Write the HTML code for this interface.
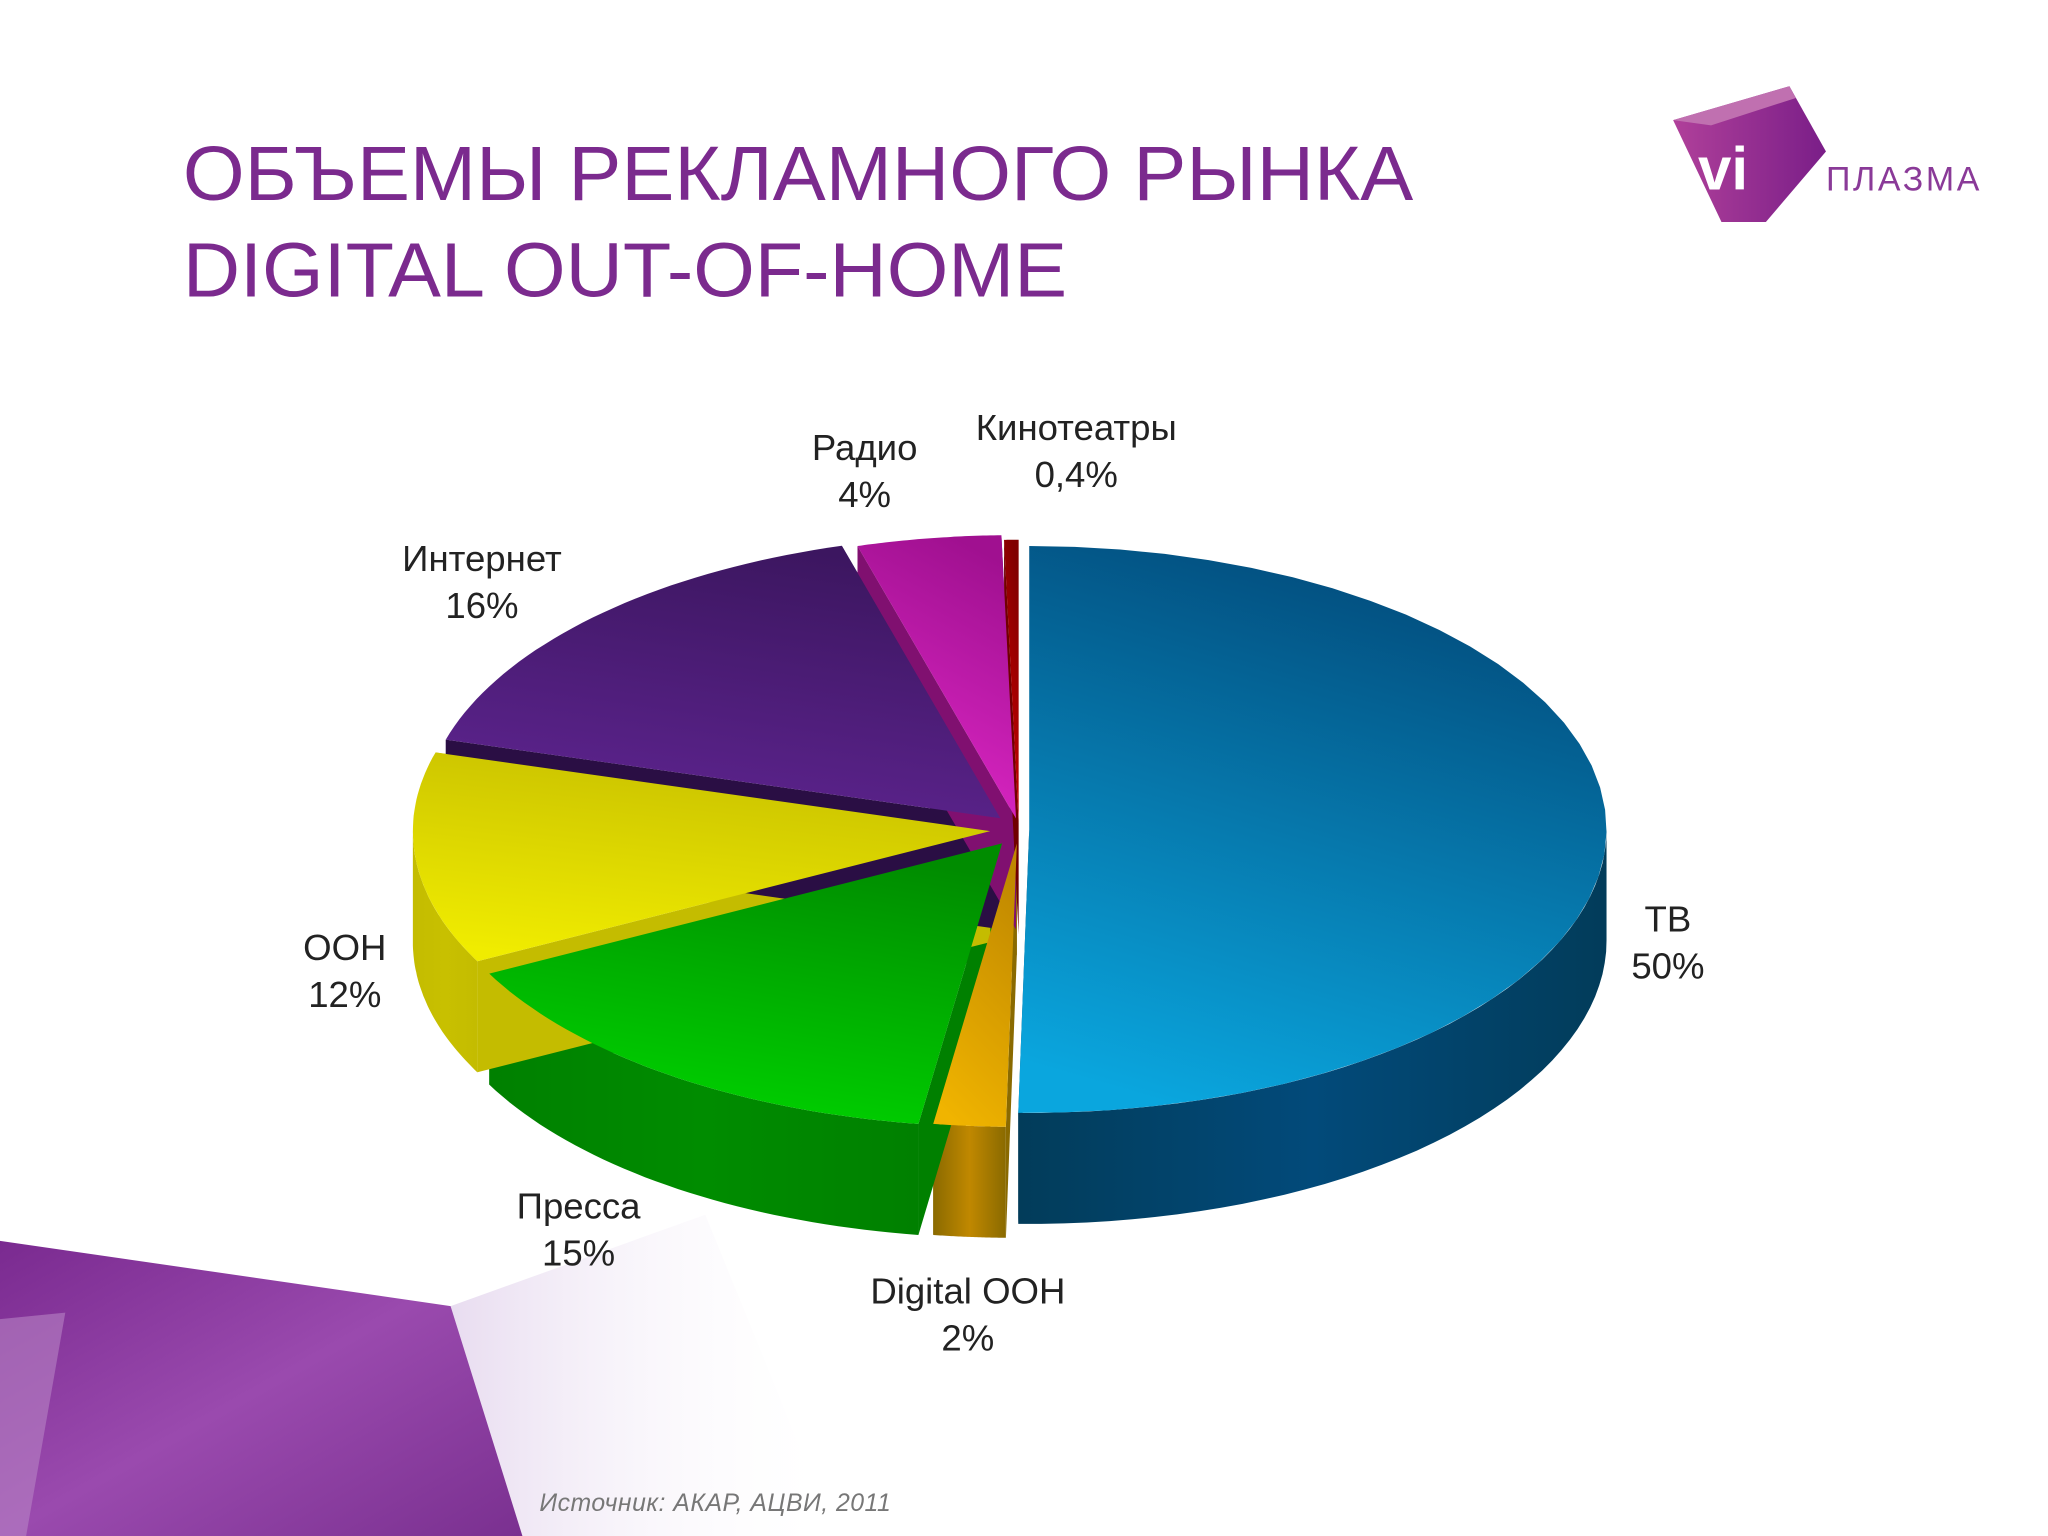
<!DOCTYPE html>
<html><head><meta charset="utf-8"><style>
html,body{margin:0;padding:0;background:#fff;}
svg{display:block;}
text{font-family:"Liberation Sans","DejaVu Sans",sans-serif;}
</style></head><body>
<svg width="2048" height="1536" viewBox="0 0 1568 1176" xmlns="http://www.w3.org/2000/svg">
<defs>
<linearGradient id="bgfade" x1="0" y1="0" x2="1" y2="0"><stop offset="0" stop-color="#e8dcf0"/><stop offset="1" stop-color="#fff" stop-opacity="0"/></linearGradient>
<linearGradient id="corner" x1="0" y1="0" x2="1" y2="1"><stop offset="0" stop-color="#7a2a90"/><stop offset="0.5" stop-color="#9a4aae"/><stop offset="1" stop-color="#7a3090"/></linearGradient>
<linearGradient id="logo" x1="0" y1="0" x2="1" y2="0"><stop offset="0" stop-color="#b0409a"/><stop offset="1" stop-color="#7a1e88"/></linearGradient>
</defs>
<rect width="1568" height="1176" fill="#fff"/>
<polygon points="345,1000 540,930 640,1176 400,1176" fill="url(#bgfade)"/>
<polygon points="0,950 345,1000 400,1176 0,1176" fill="url(#corner)"/>
<polygon points="0,1010 50,1005 20,1176 0,1176" fill="#b784c4" opacity="0.6"/>
<g>
<polygon points="1281,92 1370,66 1398,116 1352,170 1318,170" fill="url(#logo)"/>
<polygon points="1281,92 1370,66 1375,75 1310,96" fill="#c070b0"/>
<text x="1300" y="145" font-size="46" font-weight="bold" fill="#fff">vi</text>
<text x="1398" y="146" font-size="26" fill="#8a3a98" letter-spacing="2">ПЛАЗМА</text>
</g>
<text font-size="59" fill="#7b2a8e"><tspan x="140" y="153" textLength="942" lengthAdjust="spacingAndGlyphs">ОБЪЕМЫ РЕКЛАМНОГО РЫНКА</tspan><tspan x="140" y="227" textLength="677" lengthAdjust="spacingAndGlyphs">DIGITAL OUT-OF-HOME</tspan></text>
<g id="pie"></g>
<g id="labels" font-size="28" fill="#222" text-anchor="middle"></g>
<text x="413" y="1157" font-size="19" font-style="italic" fill="#777" textLength="269">Источник: АКАР, АЦВИ, 2011</text>
</svg>
<script>
const categories=["ТВ","Digital OOH","Пресса","ООН","Интернет","Радио","Кинотеатры"];
const values=[50,2,15,12,16,4,0.4];
const valueLabels=["50%","2%","15%","12%","16%","4%","0,4%"];
const topColors=["#0aa6de","#f0b400","#00d400","#f0ec00","#5e2490","#e028c8","#d00000"];
const darkColors=["#024a7a","#c08800","#008c00","#c8c000","#3c1660","#a01090","#800000"];
const sideColors=["#023c5a","#8a6a00","#008000","#c4bc00","#2a0e44","#801070","#700000"];
const explode=[8,18,22,22,20,14,8];
const labelPos=[[1277,703],[741,988],[443,923],[264,725],[369,427],[662,342],[824,327]];
const cx=780,cy=635,rx=442,ry=217,depth=85;
const NS="http://www.w3.org/2000/svg";
const pie=document.getElementById('pie');
const defs=document.querySelector('defs');
const total=values.reduce((a,b)=>a+b,0);
function pt(a,ox,oy,dy){return [ox+rx*Math.sin(a),oy-ry*Math.cos(a)+(dy||0)];}
function arc(a1,a2,ox,oy,dy){let s='';const n=40;for(let i=0;i<=n;i++){const a=a1+(a2-a1)*i/n;const p=pt(a,ox,oy,dy);s+=(i?'L':'')+p[0].toFixed(1)+','+p[1].toFixed(1);}return s;}
let acc=0;const slices=[];
values.forEach((v,i)=>{const a1=acc/total*2*Math.PI;acc+=v;const a2=acc/total*2*Math.PI;const m=(a1+a2)/2;
slices.push({i,a1,a2,ox:cx+explode[i]*Math.sin(m),oy:cy-explode[i]*Math.cos(m)*0.6});});
const walls=document.createElementNS(NS,'g');pie.appendChild(walls);
const tops=document.createElementNS(NS,'g');pie.appendChild(tops);
slices.forEach(s=>{
 const i=s.i;
 [s.a1,s.a2].forEach(a=>{const p=pt(a,s.ox,s.oy);
  const w=document.createElementNS(NS,'path');
  w.setAttribute('d',`M${s.ox},${s.oy}L${p[0]},${p[1]}L${p[0]},${p[1]+depth}L${s.ox},${s.oy+depth}Z`);
  w.setAttribute('fill',sideColors[i]);
  
  
  walls.appendChild(w);});
 const lo=Math.max(s.a1,Math.PI/2),hi=Math.min(s.a2,1.5*Math.PI);
 if(hi>lo){
  const g=document.createElementNS(NS,'linearGradient');g.id='w'+i;g.setAttribute('x1','0');g.setAttribute('x2','1');
  g.innerHTML=`<stop offset="0" stop-color="${sideColors[i]}"/><stop offset="0.5" stop-color="${darkColors[i]}"/><stop offset="1" stop-color="${sideColors[i]}"/>`;defs.appendChild(g);
  const back=arc(hi,lo,s.ox,s.oy,depth).replace(/^/,'L');
  const w=document.createElementNS(NS,'path');
  w.setAttribute('d','M'+arc(lo,hi,s.ox,s.oy)+back+'Z');
  w.setAttribute('fill','url(#w'+i+')');
  
  
  walls.appendChild(w);}
 const g=document.createElementNS(NS,'linearGradient');g.id='t'+i;g.setAttribute('x1','0.3');g.setAttribute('y1','1');g.setAttribute('x2','0.6');g.setAttribute('y2','0');
 g.innerHTML=`<stop offset="0" stop-color="${topColors[i]}"/><stop offset="1" stop-color="${darkColors[i]}"/>`;defs.appendChild(g);
 const t=document.createElementNS(NS,'path');
 t.setAttribute('d',`M${s.ox},${s.oy}L`+arc(s.a1,s.a2,s.ox,s.oy)+'Z');
 t.setAttribute('fill','url(#t'+i+')');
 
 
 tops.appendChild(t);
});
const lab=document.getElementById('labels');
categories.forEach((c,i)=>{const t=document.createElementNS(NS,'text');
 
 
 t.innerHTML=`<tspan x="${labelPos[i][0]}" y="${labelPos[i][1]+10}">${c}</tspan><tspan x="${labelPos[i][0]}" y="${labelPos[i][1]+46}">${valueLabels[i]}</tspan>`;
 lab.appendChild(t);});
</script>
</body></html>
